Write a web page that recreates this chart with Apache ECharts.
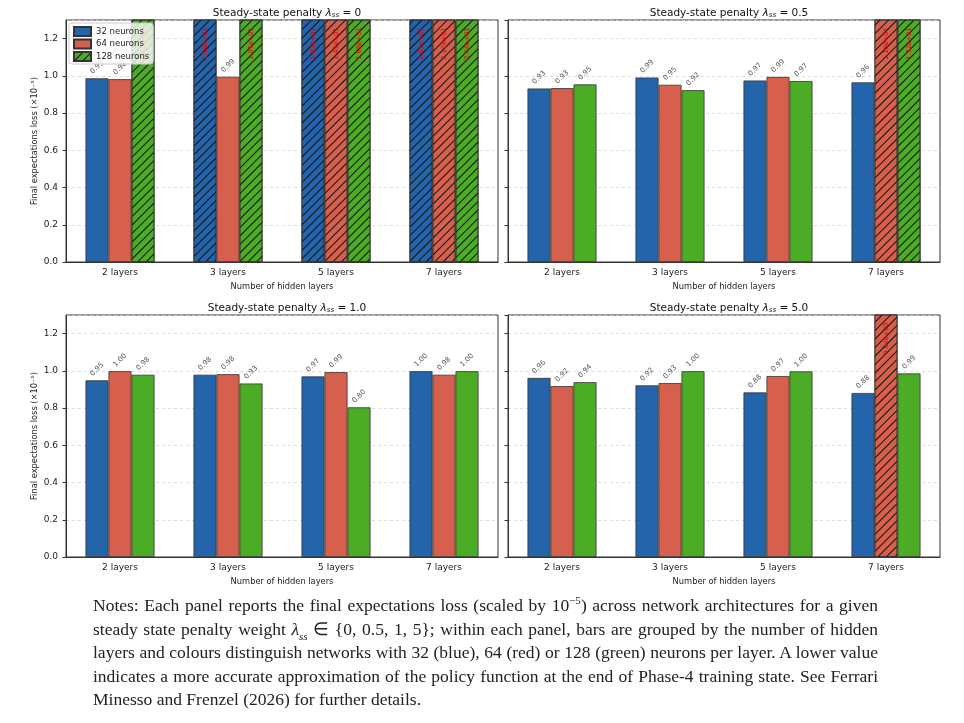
<!DOCTYPE html>
<html>
<head>
<meta charset="utf-8">
<script src="https://cdn.jsdelivr.net/npm/echarts@6/dist/echarts.min.js"></script>
<style>
  html, body { margin: 0; padding: 0; background: #fff; }
  #main { position: absolute; left: 0; top: 0; width: 964px; height: 723px; }
  #notes {
    position: absolute; left: 93px; top: 594px; width: 785px;
    font-family: "Liberation Serif", serif; font-size: 17.5px; line-height: 23.5px; color: #222;
  }
  #notes div { text-align: justify; text-align-last: justify; white-space: nowrap; }
  #notes div.last { text-align-last: left; }
  sup, sub { font-size: 11px; line-height: 0; }
</style>
</head>
<body>
<div id="main"></div>
<div id="notes">
  <div>Notes: Each panel reports the final expectations loss (scaled by 10<sup>−5</sup>) across network architectures for a given</div>
  <div>steady state penalty weight <i>λ<sub>ss</sub></i> ∈ {0, 0.5, 1, 5}; within each panel, bars are grouped by the number of hidden</div>
  <div>layers and colours distinguish networks with 32 (blue), 64 (red) or 128 (green) neurons per layer. A lower value</div>
  <div>indicates a more accurate approximation of the policy function at the end of Phase-4 training state. See Ferrari</div>
  <div class="last">Minesso and Frenzel (2026) for further details.</div>
</div>
<script>
// 数据
const categories = ['2 layers', '3 layers', '5 layers', '7 layers'];
const neurons = ['32 neurons', '64 neurons', '128 neurons'];
const penalties = ['0', '0.5', '1.0', '5.0'];

// λ = 0 (values above 1.3 run off the top of the panel)
const lam0_n32 = [0.987, 12.6, 18.3, 26.1];
const lam0_n64 = [0.982, 0.995, 14.9, 21.7];
const lam0_n128 = [8.42, 10.5, 16.8, 24.4];
// λ = 0.5
const lam05_n32 = [0.932, 0.991, 0.975, 0.965];
const lam05_n64 = [0.934, 0.952, 0.994, 11.8];
const lam05_n128 = [0.954, 0.923, 0.972, 13.2];
// λ = 1.0
const lam1_n32 = [0.949, 0.979, 0.970, 0.998];
const lam1_n64 = [0.998, 0.982, 0.993, 0.979];
const lam1_n128 = [0.979, 0.932, 0.804, 0.998];
// λ = 5.0
const lam5_n32 = [0.962, 0.922, 0.884, 0.881];
const lam5_n64 = [0.918, 0.934, 0.972, 9.64];
const lam5_n128 = [0.939, 0.998, 0.997, 0.986];

const panels = [
  [lam0_n32, lam0_n64, lam0_n128],
  [lam05_n32, lam05_n64, lam05_n128],
  [lam1_n32, lam1_n64, lam1_n128],
  [lam5_n32, lam5_n64, lam5_n128]
];

const Y_MAX = 1.3;
const Y_STEP = 0.2;

const colors = ['#2464ab', '#d6604d', '#4dac26'];
const font = 'DejaVu Sans';

const hatch = {
  symbol: 'rect', symbolSize: 1,
  dashArrayX: [1, 0], dashArrayY: [1, 5],
  rotation: -Math.PI / 4, color: '#111'
};

const grids = [
  { left: 66, top: 20, width: 432, height: 242 },
  { left: 508, top: 20, width: 432, height: 242 },
  { left: 66, top: 315, width: 432, height: 242 },
  { left: 508, top: 315, width: 432, height: 242 }
];

const sci = v => {
  const e = Math.floor(Math.log10(v));
  const m = v / Math.pow(10, e);
  return m.toFixed(2) + 'e' + (e < 0 ? '-' : '+') + String(Math.abs(e)).padStart(2, '0');
};

const chart = echarts.init(document.getElementById('main'));

const titles = penalties.map((p, i) => ({
  text: 'Steady-state penalty {l|λ}{s|ss} = ' + p,
  left: grids[i].left + grids[i].width / 2,
  top: i < 2 ? 2 : 297,
  textAlign: 'center',
  textStyle: {
    fontFamily: font, fontSize: 10.5, fontWeight: 'normal', color: '#111',
    rich: {
      l: { fontFamily: font, fontSize: 10.5, fontStyle: 'italic', color: '#111' },
      s: { fontFamily: font, fontSize: 7, fontStyle: 'italic', color: '#111', padding: [5, 0, 0, 0] }
    }
  }
}));

const xAxes = grids.map((g, i) => ({
  type: 'category', gridIndex: i, data: categories,
  name: 'Number of hidden layers', nameLocation: 'middle', nameGap: 21,
  nameTextStyle: { fontFamily: font, fontSize: 8.3, color: '#222' },
  axisLine: { lineStyle: { color: '#333', width: 1 } },
  axisTick: { alignWithLabel: true, length: 3.5, lineStyle: { color: '#333' } },
  axisLabel: { fontFamily: font, fontSize: 9, color: '#222', margin: 6 }
}));

const yAxes = grids.map((g, i) => ({
  type: 'value', gridIndex: i, min: 0, max: Y_MAX, interval: Y_STEP,
  name: i % 2 === 0 ? 'Final expectations loss (×10⁻⁵)' : '',
  nameLocation: 'middle', nameGap: 27,
  nameTextStyle: { fontFamily: font, fontSize: 8.3, color: '#222' },
  axisLine: { show: true, lineStyle: { color: '#333', width: 1 } },
  axisTick: { show: true, length: 3.5, lineStyle: { color: '#333' } },
  axisLabel: {
    show: i % 2 === 0, showMaxLabel: false,
    fontFamily: font, fontSize: 9, color: '#222', margin: 8,
    formatter: v => v.toFixed(1)
  },
  splitLine: { show: true, lineStyle: { color: '#d4d4d4', type: [3, 3], width: 0.8 } }
}));

const series = [];
panels.forEach((vals, p) => {
  vals.forEach((arr, k) => {
    series.push({
      type: 'bar', name: neurons[k], xAxisIndex: p, yAxisIndex: p,
      barWidth: 23, barGap: '0%', clip: true,
      itemStyle: { color: colors[k], borderColor: '#333', borderWidth: 0.8 },
      label: {
        show: true, position: 'top', distance: 11, rotate: 45,
        align: 'center', verticalAlign: 'middle',
        fontFamily: font, fontSize: 7, color: '#555',
        formatter: d => d.value.toFixed(2)
      },
      data: arr.map(v => v > Y_MAX ? {
        value: v,
        itemStyle: { decal: hatch },
        label: {
          position: ['50%', 24], rotate: 90, align: 'center', verticalAlign: 'middle',
          color: '#e00000', fontSize: 6.5, formatter: d => sci(d.value)
        }
      } : v)
    });
  });
});

const option = {
  animation: false,
  title: titles,
  grid: grids.map(g => Object.assign({ show: true, borderColor: '#333', borderWidth: 1, backgroundColor: 'transparent' }, g)),
  legend: {
    left: 69, top: 23, orient: 'vertical', icon: 'rect',
    itemWidth: 17, itemHeight: 9, itemGap: 1.5, selectedMode: false,
    backgroundColor: 'rgba(255,255,255,0.8)', borderColor: '#ccc', borderWidth: 1, borderRadius: 3,
    padding: [3, 4, 2, 4],
    textStyle: { fontFamily: font, fontSize: 8.5, color: '#222' },
    data: [
      { name: '32 neurons' },
      { name: '64 neurons' },
      { name: '128 neurons', itemStyle: { decal: hatch } }
    ]
  },
  xAxis: xAxes,
  yAxis: yAxes,
  series: series
};

chart.setOption(option);
</script>
</body>
</html>
